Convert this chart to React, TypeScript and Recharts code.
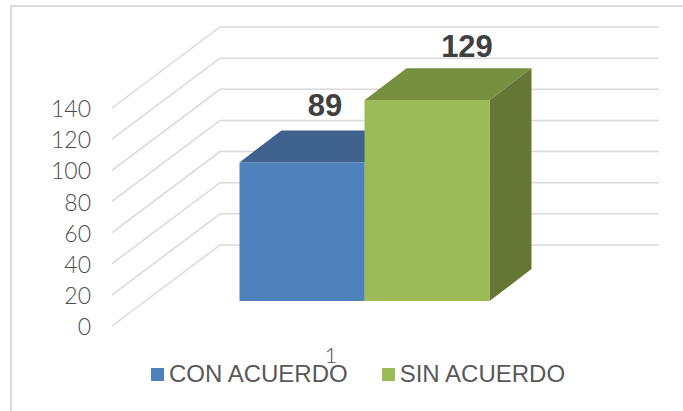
import { BarChart, Bar, XAxis, YAxis, CartesianGrid, Legend } from 'recharts';

const categories = ['1'];
const conAcuerdo = [89];
const sinAcuerdo = [129];
const yTicks = [0, 20, 40, 60, 80, 100, 120, 140];

const chartData = categories.map((name, i) => ({
  name,
  'CON ACUERDO': conAcuerdo[i],
  'SIN ACUERDO': sinAcuerdo[i],
}));

const axisFont = 'Lato, "Open Sans", sans-serif';
const mainFont = '"Liberation Sans", Arial, sans-serif';

// fake 3d: the bars sit part way into the floor, the grid runs up the side wall
const WALL_DX = 108;
const WALL_DY = 81;
const BAR_DX = 33.5;
const BAR_DY = 25;
const DEPTH_DX = 42;
const DEPTH_DY = 32;

function gridLine(props: any) {
  const { x1, x2, y1, key } = props;
  const pts = `${x1},${y1} ${x1 + WALL_DX},${y1 - WALL_DY} ${x2 + WALL_DX + 1},${y1 - WALL_DY}`;
  return <polyline key={key} points={pts} fill="none" stroke="#d9d9d9" strokeWidth={1.5} />;
}

function box(front: string, top: string, side: string) {
  return (props: any) => {
    const x = props.x + BAR_DX;
    const y = props.y - BAR_DY;
    const { width: w, height: h } = props;
    return (
      <g>
        <polygon
          points={`${x},${y} ${x + DEPTH_DX},${y - DEPTH_DY} ${x + w + DEPTH_DX},${y - DEPTH_DY} ${x + w},${y}`}
          fill={top}
        />
        <polygon
          points={`${x + w},${y} ${x + w + DEPTH_DX},${y - DEPTH_DY} ${x + w + DEPTH_DX},${y + h - DEPTH_DY} ${x + w},${y + h}`}
          fill={side}
        />
        <rect x={x} y={y} width={w} height={h} fill={front} />
      </g>
    );
  };
}

function valueLabel(dx: number, dy: number) {
  return (props: any) => (
    <text
      x={props.x + props.width / 2 + dx}
      y={props.y + dy}
      textAnchor="middle"
      fontFamily={mainFont}
      fontSize={31}
      fontWeight={700}
      fill="#404040"
    >
      {props.value}
    </text>
  );
}

function LegendRow({ payload }: any) {
  return (
    <div style={{ display: 'flex', fontFamily: mainFont, fontSize: 24, color: '#595959', lineHeight: '24px' }}>
      {payload.map((item: any) => (
        <div key={item.value} style={{ display: 'flex', alignItems: 'center', marginRight: 34 }}>
          <div style={{ width: 13, height: 13, background: item.color, marginRight: 5 }} />
          <span>{item.value}</span>
        </div>
      ))}
    </div>
  );
}

export default function App() {
  return (
    <div style={{ position: 'absolute', left: 0, top: 0, width: 683, height: 411, overflow: 'hidden', background: '#fff' }}>
      <div
        style={{
          position: 'absolute',
          left: 10,
          top: 5,
          width: 680,
          height: 404,
          borderTop: '2px solid #d9d9d9',
          borderLeft: '2px solid #d9d9d9',
          borderBottom: '1px solid #eeeeee',
        }}
      />
      <div style={{ position: 'absolute', left: 0, top: 0 }}>
        <BarChart
          width={683}
          height={411}
          data={chartData}
          margin={{ top: 108, right: 133, bottom: 31, left: 62 }}
          barSize={125}
          barGap={0}
        >
          <CartesianGrid vertical={false} horizontal={gridLine} />
          <XAxis
            dataKey="name"
            axisLine={false}
            tickLine={false}
            tickMargin={15}
            height={30}
            tick={{ fontFamily: axisFont, fontSize: 22, fontWeight: 300, fill: '#4d4d4d' }}
          />
          <YAxis
            width={50}
            domain={[0, 140]}
            ticks={yTicks}
            interval={0}
            axisLine={false}
            tickLine={false}
            tickSize={0}
            tickMargin={21}
            tick={{ fontFamily: axisFont, fontSize: 23, fontWeight: 300, fill: '#4d4d4d', dy: 1 }}
          />
          <Legend
            layout="horizontal"
            content={LegendRow}
            wrapperStyle={{ left: 151, top: 362, width: 520, bottom: 'auto' }}
          />
          <Bar
            dataKey="CON ACUERDO"
            fill="#4f81bd"
            shape={box('#4f81bd', '#3e618e', '#3e618e')}
            label={valueLabel(56.5, -71)}
            isAnimationActive={false}
          />
          <Bar
            dataKey="SIN ACUERDO"
            fill="#9bbb59"
            shape={box('#9bbb59', '#769040', '#647735')}
            label={valueLabel(73.5, -68)}
            isAnimationActive={false}
          />
        </BarChart>
      </div>
    </div>
  );
}
